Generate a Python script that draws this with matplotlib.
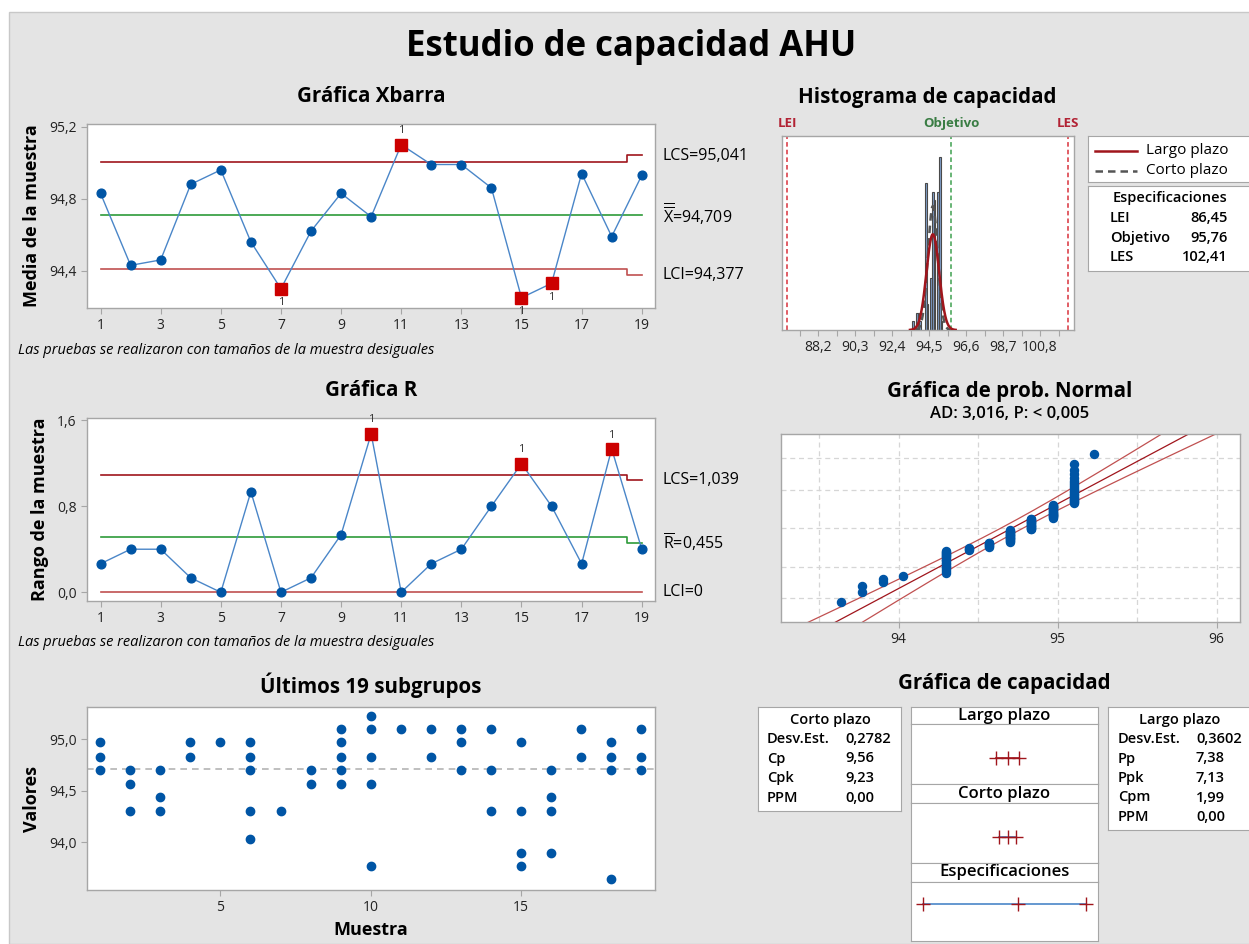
import matplotlib
matplotlib.use('Agg')
import matplotlib.pyplot as plt
import numpy as np
from matplotlib.patches import Rectangle
from matplotlib.ticker import FuncFormatter
from statistics import NormalDist

plt.rcParams['font.family'] = ['Open Sans', 'DejaVu Sans']
plt.rcParams['mathtext.fontset'] = 'custom'
plt.rcParams['mathtext.rm'] = 'Open Sans'

# ---- datos ----
subgrupos = np.arange(1, 20)
medias = [94.83, 94.43, 94.46, 94.88, 94.96, 94.56, 94.30, 94.62, 94.83, 94.70,
          95.10, 94.99, 94.99, 94.86, 94.25, 94.33, 94.94, 94.59, 94.93]
rangos = [0.265, 0.40, 0.40, 0.134, 0.0, 0.934, 0.0, 0.134, 0.535, 1.472,
          0.0, 0.265, 0.40, 0.80, 1.195, 0.80, 0.265, 1.332, 0.40]
xbar_lcs = [95.006] * 18 + [95.041]
xbar_lci = [94.412] * 18 + [94.377]
xbar_centro = 94.709
r_lcs = [1.092] * 18 + [1.039]
r_centro = [0.518] * 18 + [0.455]
r_lci = 0.0
fuera_xbar = [7, 11, 15, 16]
fuera_r = [10, 15, 18]

valores_subgrupo = [
    [94.97, 94.83, 94.70], [94.70, 94.57, 94.30], [94.70, 94.44, 94.30],
    [94.97, 94.83], [94.97], [94.97, 94.83, 94.70, 94.30, 94.03], [94.30],
    [94.70, 94.57], [95.10, 94.97, 94.83, 94.70, 94.57],
    [95.23, 95.10, 94.83, 94.57, 93.77], [95.10], [95.10, 94.83],
    [95.10, 94.97, 94.70], [95.10, 94.70, 94.30], [94.97, 94.30, 93.90, 93.77],
    [94.70, 94.44, 94.30, 93.90], [95.10, 94.83], [94.97, 94.83, 94.70, 93.64],
    [95.10, 94.83, 94.70]]

niveles = [93.64, 93.77, 93.90, 94.03, 94.30, 94.44, 94.57, 94.70, 94.83, 94.97, 95.10, 95.23]
conteos = [1, 2, 2, 1, 17, 3, 6, 16, 15, 16, 20, 1]

lei, objetivo, les = 86.45, 95.76, 102.41
media_total = 94.709
de_corto, de_largo = 0.2782, 0.3602
hist_ticks = [87.15, 88.2, 89.25, 90.3, 91.35, 92.4, 93.45, 94.5, 95.55, 96.6,
              97.65, 98.7, 99.75, 100.8, 101.85]
tabla_corto = [('Desv.Est.', '0,2782'), ('Cp', '9,56'), ('Cpk', '9,23'), ('PPM', '0,00')]
tabla_largo = [('Desv.Est.', '0,3602'), ('Pp', '7,38'), ('Ppk', '7,13'), ('Cpm', '1,99'), ('PPM', '0,00')]
tabla_spec = [('LEI', '86,45'), ('Objetivo', '95,76'), ('LES', '102,41')]

# ---- estilo ----
W, H = 1249, 944
AZUL = '#0055A5'
LINEA = '#4A86C8'
ROJO = '#A0151C'
ROJO2 = '#C05050'
VERDE = '#2E9B3A'
GRIS = '#A6A6A6'
FONDO = '#E4E4E4'
TIT = 14.8


def px(l, t, r, b):
    return [l / W, 1 - b / H, (r - l) / W, (b - t) / H]


def texto(x, y, s, **kw):
    kw.setdefault('va', 'center')
    return fig.text(x / W, 1 - y / H, s, **kw)


def coma(dec):
    return FuncFormatter(lambda v, p: f'{v:.{dec}f}'.replace('.', ','))


def estilo(ax):
    for s in ax.spines.values():
        s.set_color(GRIS)
        s.set_linewidth(1)
    ax.tick_params(colors=GRIS, labelcolor='#222222', labelsize=10, length=4, width=0.8)


fig = plt.figure(figsize=(W / 100, H / 100), dpi=100)
fig.patch.set_facecolor('white')
fig.add_artist(Rectangle((9 / W, 0), 1, 1 - 12 / H, transform=fig.transFigure,
                         facecolor=FONDO, edgecolor='#C8C8C8', lw=1, zorder=-10))

texto(631, 47, 'Estudio de capacidad AHU', ha='center', fontsize=25, fontweight='bold')

# ---- Grafica Xbarra ----
ax1 = fig.add_axes(px(87, 124, 655, 308))
estilo(ax1)
ax1.plot(subgrupos, xbar_lcs, drawstyle='steps-mid', color=ROJO, lw=1.2)
ax1.plot(subgrupos, xbar_lci, drawstyle='steps-mid', color=ROJO2, lw=1.2)
ax1.plot([1, 19], [xbar_centro] * 2, color=VERDE, lw=1.2)
ax1.plot(subgrupos, medias, color=LINEA, lw=1, marker='o', ms=6.3, mfc=AZUL, mec=AZUL, zorder=3)
for s in fuera_xbar:
    ax1.plot(s, medias[s - 1], 's', ms=9.3, color='#CC0000', zorder=4)
    arriba = medias[s - 1] > xbar_centro
    ax1.annotate('1', (s, medias[s - 1]), xytext=(0, 10 if arriba else -10), textcoords='offset points',
                 ha='center', va='center', fontsize=8, color='#333333')
ax1.set_xlim(0.55, 19.44)
ax1.set_ylim(94.193, 95.215)
ax1.set_xticks(range(1, 20, 2))
ax1.set_yticks([94.4, 94.8, 95.2])
ax1.yaxis.set_major_formatter(coma(1))
ax1.set_ylabel('Media de la muestra', fontsize=13, fontweight='bold', labelpad=6)
texto(371, 97, 'Gráfica Xbarra', ha='center', fontsize=TIT, fontweight='bold')
texto(663, 156, 'LCS=95,041', fontsize=11.5)
texto(663, 214, r'$\overline{\overline{\mathrm{X}}}$=94,709', fontsize=11.5)
texto(663, 275, 'LCI=94,377', fontsize=11.5)
texto(18, 350, 'Las pruebas se realizaron con tamaños de la muestra desiguales', fontsize=10.5, style='italic')

# ---- Grafica R ----
ax2 = fig.add_axes(px(87, 418, 655, 601))
estilo(ax2)
ax2.plot(subgrupos, r_lcs, drawstyle='steps-mid', color=ROJO, lw=1.2)
ax2.plot([1, 19], [r_lci] * 2, color=ROJO2, lw=1.2)
ax2.plot(subgrupos, r_centro, drawstyle='steps-mid', color=VERDE, lw=1.2)
ax2.plot(subgrupos, rangos, color=LINEA, lw=1, marker='o', ms=6.3, mfc=AZUL, mec=AZUL, zorder=3)
for s in fuera_r:
    ax2.plot(s, rangos[s - 1], 's', ms=9.3, color='#CC0000', zorder=4)
    ax2.annotate('1', (s, rangos[s - 1]), xytext=(0, 10), textcoords='offset points',
                 ha='center', va='center', fontsize=8, color='#333333')
ax2.set_xlim(0.55, 19.44)
ax2.set_ylim(-0.081, 1.619)
ax2.set_xticks(range(1, 20, 2))
ax2.set_yticks([0, 0.8, 1.6])
ax2.yaxis.set_major_formatter(coma(1))
ax2.set_ylabel('Rango de la muestra', fontsize=13, fontweight='bold', labelpad=6)
texto(371, 391, 'Gráfica R', ha='center', fontsize=TIT, fontweight='bold')
texto(663, 480, 'LCS=1,039', fontsize=11.5)
texto(663, 542, r'$\overline{\mathrm{R}}$=0,455', fontsize=11.5)
texto(663, 592, 'LCI=0', fontsize=11.5)
texto(18, 643, 'Las pruebas se realizaron con tamaños de la muestra desiguales', fontsize=10.5, style='italic')

# ---- Ultimos 19 subgrupos ----
ax3 = fig.add_axes(px(87, 707, 655, 890))
estilo(ax3)
for s, vals in zip(subgrupos, valores_subgrupo):
    ax3.plot([s] * len(vals), vals, 'o', ms=6, color=AZUL, zorder=3)
ax3.axhline(media_total, color='#B4B4B4', lw=1.2, ls=(0, (4, 3)))
ax3.set_xlim(0.56, 19.46)
ax3.set_ylim(93.537, 95.314)
ax3.set_xticks([5, 10, 15])
ax3.set_yticks([94.0, 94.5, 95.0])
ax3.yaxis.set_major_formatter(coma(1))
ax3.set_ylabel('Valores', fontsize=13, fontweight='bold', labelpad=6)
ax3.set_xlabel('Muestra', fontsize=13, fontweight='bold', labelpad=4)
texto(371, 685, 'Últimos 19 subgrupos', ha='center', fontsize=TIT, fontweight='bold')

# ---- Histograma de capacidad ----
datos = np.repeat(niveles, conteos)
ax4 = fig.add_axes(px(782, 136, 1074, 330))
estilo(ax4)
ax4.hist(datos, bins=np.arange(93.55, 95.36, 0.1), density=True, color='#7F9FCB',
         edgecolor='#4A4A4A', lw=0.8, zorder=2)
xc = np.linspace(media_total - 3.6 * de_corto, media_total + 3.6 * de_corto, 300)
xl = np.linspace(media_total - 3.6 * de_largo, media_total + 3.6 * de_largo, 300)
nd = NormalDist()
ax4.plot(xc, [NormalDist(media_total, de_corto).pdf(v) for v in xc], color='#555555', lw=1.8,
         ls=(0, (3, 2)), zorder=3)
ax4.plot(xl, [NormalDist(media_total, de_largo).pdf(v) for v in xl], color=ROJO, lw=1.8, zorder=4)
ax4.axvline(lei, color='#D9323C', lw=1.1, ls=(0, (3, 2)))
ax4.axvline(les, color='#D9323C', lw=1.1, ls=(0, (3, 2)))
ax4.axvline(objetivo, color='#3FA050', lw=1.1, ls=(0, (3, 2)))
ax4.set_xlim(86.14, 102.73)
ax4.set_ylim(0, 2.245)
ax4.set_yticks([])
ax4.set_xticks(hist_ticks)
ax4.set_xticklabels([f'{v:.1f}'.replace('.', ',') if i % 2 == 1 else '' for i, v in enumerate(hist_ticks)])
for x, lab, c in [(lei, 'LEI', '#B22234'), (objetivo, 'Objetivo', '#3A7D44'), (les, 'LES', '#B22234')]:
    ax4.annotate(lab, (x, 1), xycoords=('data', 'axes fraction'), xytext=(0, 9), textcoords='offset points',
                 ha='center', va='center', fontsize=9.5, fontweight='bold', color=c)
texto(927, 97, 'Histograma de capacidad', ha='center', fontsize=TIT, fontweight='bold')

# leyenda
axl = fig.add_axes(px(1088, 136, 1252, 182))
axl.set_xticks([]); axl.set_yticks([])
for s in axl.spines.values():
    s.set_color(GRIS)
axl.set_xlim(1088, 1252); axl.set_ylim(182, 136)
axl.plot([1095, 1137], [151, 151], color=ROJO, lw=1.8)
axl.plot([1095, 1137], [171, 171], color='#555555', lw=1.8, ls=(0, (3, 2)))
axl.text(1146, 151, 'Largo plazo', va='center', fontsize=11)
axl.text(1146, 171, 'Corto plazo', va='center', fontsize=11)

axs = fig.add_axes(px(1088, 186, 1252, 271))
axs.set_xticks([]); axs.set_yticks([])
for s in axs.spines.values():
    s.set_color(GRIS)
texto(1170, 198, 'Especificaciones', ha='center', fontsize=10.5, fontweight='semibold')
for i, (lab, val) in enumerate(tabla_spec):
    texto(1110, 218 + 19.5 * i, lab, fontsize=10.5, fontweight='semibold')
    texto(1228, 218 + 19.5 * i, val, ha='right', fontsize=10.5, fontweight='semibold')

# ---- Grafica de prob. Normal ----
n = len(datos)
zs = np.array([nd.inv_cdf((i - 0.3) / (n + 0.4)) for i in range(1, n + 1)])
mu, sd = datos.mean(), datos.std(ddof=1)
ax5 = fig.add_axes(px(781, 434, 1240, 622))
estilo(ax5)
for gx in np.arange(93.5, 96.01, 0.5):
    ax5.axvline(gx, color='#D6D6D6', lw=0.9, ls=(0, (4, 3)), zorder=0)
for p in [0.01, 0.10, 0.50, 0.90, 0.99]:
    ax5.axhline(nd.inv_cdf(p), color='#D6D6D6', lw=0.9, ls=(0, (4, 3)), zorder=0)
zz = np.linspace(-3.4, 3.4, 200)
se = 1.96 * sd * np.sqrt(1 / n + zz ** 2 / (2 * (n - 1)))
ax5.plot(mu + sd * zz, zz, color=ROJO, lw=0.9)
ax5.plot(mu + sd * zz - se, zz, color=ROJO2, lw=0.9)
ax5.plot(mu + sd * zz + se, zz, color=ROJO2, lw=0.9)
ax5.plot(datos, zs, 'o', ms=5.8, color=AZUL, zorder=3)
ax5.set_xlim(93.26, 96.147)
ax5.set_ylim(-3.12, 3.13)
ax5.set_yticks([])
ax5.set_xticks([94, 95, 96])
texto(1010, 391, 'Gráfica de prob. Normal', ha='center', fontsize=TIT, fontweight='bold')
texto(1010, 414, 'AD: 3,016, P: < 0,005', ha='center', fontsize=12, fontweight='semibold')

# ---- Grafica de capacidad ----
texto(1004, 684, 'Gráfica de capacidad', ha='center', fontsize=TIT, fontweight='bold')


def caja(l, t, r, b):
    ax = fig.add_axes(px(l, t, r, b))
    ax.set_xticks([]); ax.set_yticks([])
    for s in ax.spines.values():
        s.set_color(GRIS)
    return ax


caja(758, 707, 901, 811)
texto(830, 720, 'Corto plazo', ha='center', fontsize=10.5, fontweight='semibold')
for i, (lab, val) in enumerate(tabla_corto):
    texto(767, 739 + 19.5 * i, lab, fontsize=10.5, fontweight='semibold')
    texto(845, 739 + 19.5 * i, val, fontsize=10.5, fontweight='semibold')

caja(1108, 707, 1252, 830)
texto(1180, 720, 'Largo plazo', ha='center', fontsize=10.5, fontweight='semibold')
for i, (lab, val) in enumerate(tabla_largo):
    texto(1118, 739 + 19.5 * i, lab, fontsize=10.5, fontweight='semibold')
    texto(1196, 739 + 19.5 * i, val, fontsize=10.5, fontweight='semibold')

paneles = [('Largo plazo', 707, 724, 784, [media_total - 3 * de_largo, media_total, media_total + 3 * de_largo], ROJO),
           ('Corto plazo', 784, 803, 863, [media_total - 3 * de_corto, media_total, media_total + 3 * de_corto], LINEA),
           ('Especificaciones', 863, 882, 941, [lei, objetivo, les], LINEA)]
for nombre, t, m, b, marcas, col in paneles:
    caja(911, t, 1098, m)
    texto(1004.5, (t + m) / 2, nombre, ha='center', fontsize=12, fontweight='semibold')
    ax = caja(911, m, 1098, b)
    ax.plot([marcas[0], marcas[-1]], [0, 0], color=col, lw=1.2)
    ax.plot(marcas, [0] * 3, '+', ms=10, mew=1, color=ROJO)
    ax.set_xlim(85.28, 103.54)
    ax.set_ylim(-1, 1.3 if nombre != 'Especificaciones' else 0.6)

fig.savefig('out.png', dpi=100, facecolor=fig.get_facecolor())
